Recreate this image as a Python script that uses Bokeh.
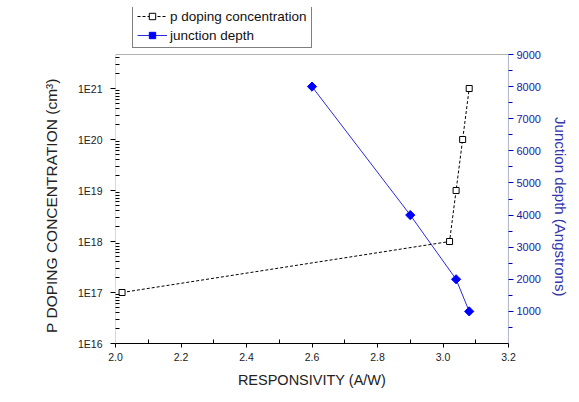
import numpy as np
from bokeh.plotting import figure
from bokeh.models import (Range1d, LinearAxis, LinearScale, FixedTicker, CustomJSTickFormatter,
                          Legend, LegendItem, BoxAnnotation)
from bokeh.embed import file_html
from bokeh.resources import INLINE

# data
resp_doping = [2.02, 3.02, 3.04, 3.06, 3.08]
doping = [1e17, 1e18, 1e19, 1e20, 1e21]
resp_depth = [2.6, 2.9, 3.04, 3.08]
depth = [8000, 4000, 2000, 1000]
x_ticks = [2.0, 2.2, 2.4, 2.6, 2.8, 3.0, 3.2]
y_ticks = [1e16, 1e17, 1e18, 1e19, 1e20, 1e21]
depth_ticks = [1000, 2000, 3000, 4000, 5000, 6000, 7000, 8000, 9000]

# axis extents of the drawn box
X_MIN, X_MAX = 2.0, 3.2
Y_MIN, Y_BOX_TOP = 1e16, 10 ** 21.667
DEPTH_MAX = 9000

FONT = "Liberation Sans"
NBSP = "\u00a0"

# frame extends above the box to make room for the legend
FRAME_H = 336
BOX_H = 289
y_top = 10 ** (16 + 5.667 * FRAME_H / BOX_H)
depth_top = DEPTH_MAX * FRAME_H / BOX_H

p = figure(width=571, height=394, output_backend="svg", toolbar_location=None,
           y_axis_type="log", x_range=Range1d(X_MIN, X_MAX),
           y_range=Range1d(Y_MIN, y_top),
           min_border_left=115, min_border_right=63, min_border_top=7,
           min_border_bottom=51)
p.outline_line_color = None
p.xgrid.visible = False
p.ygrid.visible = False
p.background_fill_color = "white"
p.border_fill_color = "white"
p.extra_y_ranges = {"depth": Range1d(0, depth_top)}
p.extra_y_scales = {"depth": LinearScale()}

# box outline (left, top, right edges of the plot box)
p.add_layout(BoxAnnotation(left=X_MIN, right=X_MAX, bottom=Y_MIN, top=Y_BOX_TOP,
                           fill_color=None, line_color="black", line_width=1))
p.add_layout(BoxAnnotation(left=X_MAX, right=X_MAX, bottom=Y_MIN, top=Y_BOX_TOP,
                           fill_color=None, line_color="#0000cc", line_width=1.2))

# bottom axis
xa = p.xaxis[0]
xa.ticker = FixedTicker(ticks=x_ticks, minor_ticks=[2.1, 2.3, 2.5, 2.7, 2.9, 3.1])
xa.axis_label = "RESPONSIVITY (A/W)"
xa.major_tick_out = 4
xa.major_tick_in = 0
xa.minor_tick_in = 4
xa.minor_tick_out = 0
xa.formatter = CustomJSTickFormatter(code="return tick.toFixed(1);")

# left axis
ya = p.yaxis[0]
minor = []
for e in range(16, 22):
    for k in range(2, 10):
        v = k * 10.0 ** e
        if v < Y_BOX_TOP:
            minor.append(v)
ya.ticker = FixedTicker(ticks=y_ticks, minor_ticks=minor)
ya.formatter = CustomJSTickFormatter(code="return '1E' + Math.round(Math.log10(tick));")
ya.axis_label = "P DOPING CONCENTRATION (cm³)" + NBSP * 14
ya.major_tick_out = 5
ya.major_tick_in = 0
ya.minor_tick_in = 4
ya.minor_tick_out = 0

for ax in (xa, ya):
    ax.axis_line_color = "black"
    ax.major_tick_line_color = "black"
    ax.minor_tick_line_color = "black"
    ax.major_label_text_font = FONT
    ax.major_label_text_font_size = "10.5px"
    ax.major_label_text_color = "#222222"
    ax.axis_label_text_font = FONT
    ax.axis_label_text_font_size = "14.5px"
    ax.axis_label_text_font_style = "normal"
    ax.axis_label_text_color = "#222222"
ya.axis_line_color = None
ya.axis_label_text_font_size = "15.5px"
xa.axis_label_standoff = 8
ya.axis_label_standoff = 15
ya.major_label_standoff = 8

# right axis
ra = LinearAxis(y_range_name="depth",
                ticker=FixedTicker(ticks=depth_ticks,
                                   minor_ticks=[500 + 1000 * i for i in range(9)]),
                axis_label=NBSP * 15 + "Junction depth (Angstrons)")
ra.axis_line_color = None
ra.major_tick_line_color = "#0000cc"
ra.minor_tick_line_color = "#0000cc"
ra.major_tick_out = 5
ra.major_tick_in = 0
ra.minor_tick_out = 4
ra.minor_tick_in = 0
ra.major_label_text_color = "#1a1aa0"
ra.major_label_text_font = FONT
ra.major_label_text_font_size = "11px"
ra.axis_label_text_font = FONT
ra.axis_label_text_font_size = "15px"
ra.axis_label_text_font_style = "normal"
ra.axis_label_text_color = "#3333aa"
ra.major_label_standoff = 3
ra.axis_label_standoff = 8
p.add_layout(ra, "right")

# series
l1 = p.line(resp_doping, doping, line_color="black", line_dash="3 2", line_width=1)
s1 = p.scatter(resp_doping, doping, marker="square", size=6, fill_color="white",
               line_color="black", line_width=1)
l2 = p.line(resp_depth, depth, y_range_name="depth", line_color="#2a2ad8", line_width=1)
s2 = p.scatter(resp_depth, depth, y_range_name="depth", marker="square", size=6.5,
               angle=np.pi / 4, fill_color="#0000ff", line_color="#0000ff")

legend = Legend(items=[LegendItem(label="p doping concentration", renderers=[l1, s1]),
                       LegendItem(label="junction depth", renderers=[l2, s2])],
                location=(17, 295), orientation="vertical")
legend.border_line_color = "black"
legend.border_line_width = 1
legend.background_fill_alpha = 1
legend.label_text_font = FONT
legend.label_text_font_size = "13.5px"
legend.label_text_color = "#111111"
legend.glyph_width = 30
legend.glyph_height = 16
legend.label_height = 16
legend.label_standoff = 3
legend.padding = 4
legend.spacing = 3
legend.margin = 0
p.add_layout(legend, "center")

open("out.html", "w").write(file_html(p, INLINE))
